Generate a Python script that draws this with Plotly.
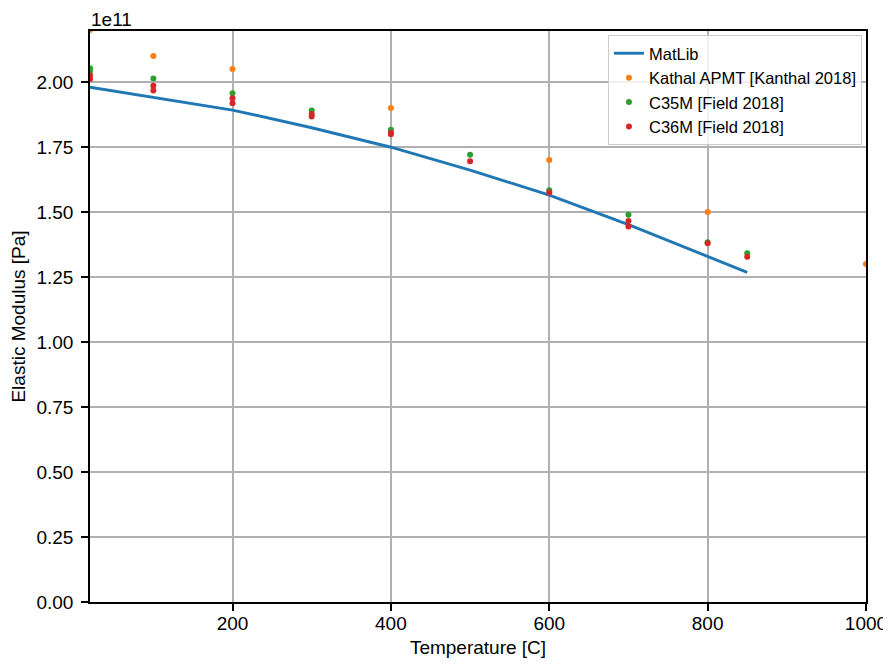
import plotly.graph_objects as go

# Data (values in Pa)
matlib_T = [20, 100, 200, 300, 400, 500, 600, 700, 800, 850]
matlib_E = [1.980e11, 1.942e11, 1.892e11, 1.824e11, 1.749e11, 1.661e11, 1.565e11, 1.451e11, 1.331e11, 1.268e11]

kanthal_T = [20, 100, 200, 400, 600, 800, 1000]
kanthal_E = [2.20e11, 2.10e11, 2.05e11, 1.90e11, 1.70e11, 1.50e11, 1.30e11]

c35m_T = [20, 20, 100, 200, 300, 400, 500, 600, 700, 800, 850]
c35m_E = [2.053e11, 2.040e11, 2.013e11, 1.957e11, 1.890e11, 1.816e11, 1.720e11, 1.584e11, 1.489e11, 1.384e11, 1.341e11]

c36m_T = [20, 20, 100, 100, 200, 200, 300, 300, 400, 400, 500, 600, 700, 700, 800, 850]
c36m_E = [2.025e11, 2.011e11, 1.985e11, 1.967e11, 1.937e11, 1.918e11, 1.877e11, 1.867e11,
          1.805e11, 1.799e11, 1.695e11, 1.575e11, 1.465e11, 1.444e11, 1.380e11, 1.328e11]

y_ticks = [0, 0.25e11, 0.5e11, 0.75e11, 1.0e11, 1.25e11, 1.5e11, 1.75e11, 2.0e11]
y_tick_labels = ["0.00", "0.25", "0.50", "0.75", "1.00", "1.25", "1.50", "1.75", "2.00"]
x_ticks = [200, 400, 600, 800, 1000]

FONT = "Liberation Sans, Arial, sans-serif"

fig = go.Figure()
fig.add_trace(go.Scatter(x=matlib_T, y=matlib_E, mode="lines", name="MatLib",
                         line=dict(color="#1f77b4", width=2.9)))
fig.add_trace(go.Scatter(x=kanthal_T, y=kanthal_E, mode="markers", name="Kathal APMT [Kanthal 2018]",
                         marker=dict(color="#ff7f0e", size=6, line=dict(width=0))))
fig.add_trace(go.Scatter(x=c35m_T, y=c35m_E, mode="markers", name="C35M [Field 2018]",
                         marker=dict(color="#2ca02c", size=6, line=dict(width=0))))
fig.add_trace(go.Scatter(x=c36m_T, y=c36m_E, mode="markers", name="C36M [Field 2018]",
                         marker=dict(color="#d62728", size=6, line=dict(width=0))))

axis_common = dict(
    showline=True, linecolor="black", linewidth=1.5, mirror=True,
    showgrid=True, gridcolor="#b0b0b0", gridwidth=1.5,
    ticks="outside", ticklen=7, tickwidth=1.5, tickcolor="black",
    tickfont=dict(size=19, color="black", family=FONT),
    zeroline=False, automargin=False,
)

fig.update_layout(
    width=891, height=664,
    margin=dict(l=82, r=33, t=23, b=70),
    paper_bgcolor="white", plot_bgcolor="white",
    font=dict(family=FONT, color="black"),
    xaxis=dict(range=[20, 1000], tickvals=x_ticks, ticklabelstandoff=-4,
               title=dict(text="Temperature [C]", font=dict(size=19), standoff=8),
               **axis_common),
    yaxis=dict(range=[0, 2.196e11], tickvals=y_ticks, ticktext=y_tick_labels,
               ticklabelstandoff=4,
               title=dict(text="Elastic Modulus [Pa]", font=dict(size=19), standoff=8),
               **axis_common),
    legend=dict(x=0.9948, y=0.993, xanchor="right", yanchor="top",
                bgcolor="rgba(255,255,255,0.8)", bordercolor="#cccccc", borderwidth=1,
                font=dict(size=16.5, color="black", family=FONT)),
    showlegend=True,
)

fig.add_annotation(text="1e11", xref="paper", yref="paper", x=0, y=1,
                   xanchor="left", yanchor="bottom", yshift=0, borderpad=0, showarrow=False,
                   font=dict(size=19, color="black", family=FONT))

fig.write_html("out.html")
